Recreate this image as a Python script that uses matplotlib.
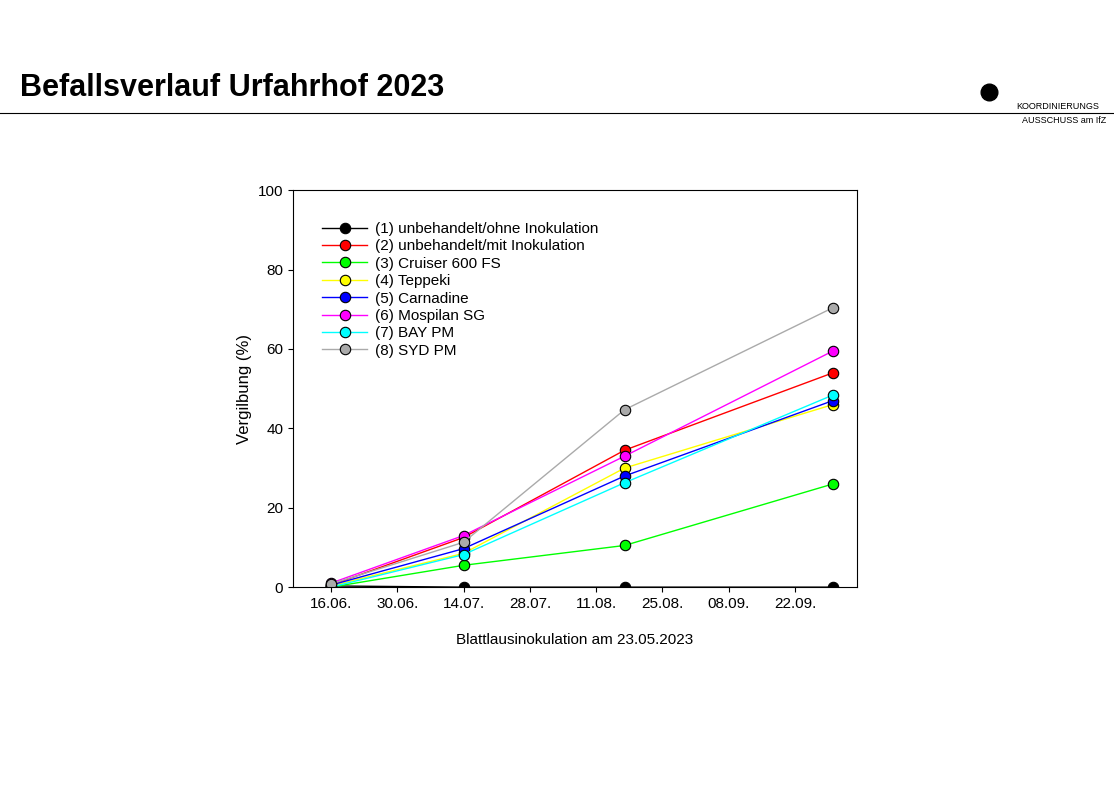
import matplotlib
matplotlib.use("Agg")
import matplotlib.pyplot as plt
import datetime as dt

dates = [dt.date(2023,6,16), dt.date(2023,7,14), dt.date(2023,8,17), dt.date(2023,9,30)]
labels = ["(1) unbehandelt/ohne Inokulation","(2) unbehandelt/mit Inokulation","(3) Cruiser 600 FS",
          "(4) Teppeki","(5) Carnadine","(6) Mospilan SG","(7) BAY PM","(8) SYD PM"]
colors = ["black","red","#00ff00","yellow","blue","magenta","cyan","#aaaaaa"]
values = [
    [0.3, 0, 0, 0],
    [0.5, 12.5, 34.5, 54],
    [0, 5.5, 10.5, 26],
    [0.3, 8.5, 30, 46],
    [0.5, 9.7, 28, 47],
    [1.0, 13, 33, 59.5],
    [0, 8.2, 26.3, 48.4],
    [0.8, 11.3, 44.7, 70.4],
]
tick_dates = [dt.date(2023,6,16), dt.date(2023,6,30), dt.date(2023,7,14), dt.date(2023,7,28),
              dt.date(2023,8,11), dt.date(2023,8,25), dt.date(2023,9,8), dt.date(2023,9,22)]

plt.rcParams['font.family'] = ['Liberation Sans', 'DejaVu Sans']
fig = plt.figure(figsize=(11.14, 7.86), dpi=100)
fig.text(0.018, 0.888, "Befallsverlauf Urfahrhof 2023", fontsize=22, fontweight='bold', va='center')
fig.add_artist(plt.Line2D([0, 1], [0.856, 0.856], color='black', lw=0.8))
fig.text(0.912, 0.861, "KOORDINIERUNGS", fontsize=6.5)
fig.text(0.917, 0.843, "AUSSCHUSS am IfZ", fontsize=6.5)
fig.add_artist(plt.Line2D([0.888], [0.883], marker='o', markersize=12, color='black'))

ax = fig.add_axes([0.263, 0.253, 0.506, 0.505])
for lab, c, v in zip(labels, colors, values):
    ax.plot(dates, v, color=c, lw=1, marker='o', markersize=7.5, markerfacecolor=c,
            markeredgecolor='black', markeredgewidth=0.8, label=lab)
ax.set_xlim(dt.date(2023,6,8), dt.date(2023,10,5))
ax.set_ylim(0, 100)
ax.set_yticks([0,20,40,60,80,100])
ax.set_xticks(tick_dates)
ax.set_xticklabels([d.strftime("%d.%m.") for d in tick_dates])
ax.tick_params(labelsize=11, direction='out')
ax.set_ylabel("Vergilbung (%)", fontsize=12)
ax.set_xlabel("Blattlausinokulation am 23.05.2023", fontsize=11, labelpad=16)
ax.legend(loc='upper left', bbox_to_anchor=(0.04, 0.935), frameon=False, fontsize=11,
          handlelength=3.0, handletextpad=0.5, labelspacing=0.22, borderaxespad=0)
fig.savefig("out.png", dpi=100)
